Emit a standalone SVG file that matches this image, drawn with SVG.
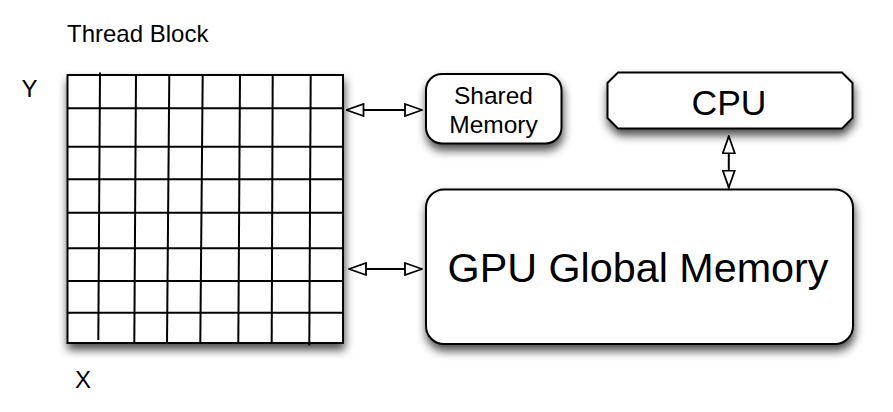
<svg xmlns="http://www.w3.org/2000/svg" width="893" height="412" viewBox="0 0 893 412">
  <style>
    .lbl { font-family: "Liberation Sans", Arial, Helvetica, sans-serif; fill: #000; }
    .box { fill: #fff; stroke: #000; stroke-width: 2; }
    .grid line { stroke: #000; stroke-width: 2; }
    .conn { stroke: #000; stroke-width: 2; fill: none; }
  </style>
  <defs>
    <filter id="sh" x="-10%" y="-10%" width="125%" height="140%">
      <feDropShadow dx="1" dy="6" stdDeviation="5" flood-color="#000" flood-opacity="0.7"/>
    </filter>
    <marker id="ah" viewBox="0 0 19 14" refX="18" refY="7" markerWidth="19" markerHeight="14" markerUnits="userSpaceOnUse" orient="auto-start-reverse">
      <path d="M1,1 L18,7 L1,13 Z" fill="#fff" stroke="#000" stroke-width="1.8" stroke-linejoin="miter"/>
    </marker>
  </defs>

  <text class="lbl" x="67" y="42" font-size="24">Thread Block</text>
  <text class="lbl" x="21.5" y="97" font-size="24">Y</text>
  <text class="lbl" x="75" y="387.5" font-size="24">X</text>

  <g id="thread-block">
    <rect class="box" x="67.5" y="75" width="275.5" height="268" filter="url(#sh)"/>
    <g class="grid">
      <line x1="100" y1="72.5" x2="98.3" y2="340"/>
      <line x1="136" y1="75" x2="134.3" y2="343"/>
      <line x1="169.3" y1="75" x2="167" y2="343"/>
      <line x1="202.7" y1="75" x2="200.3" y2="343"/>
      <line x1="240" y1="75" x2="238.3" y2="343"/>
      <line x1="272.7" y1="75" x2="271.7" y2="343"/>
      <line x1="310.7" y1="75" x2="309.3" y2="345.5"/>
      <line x1="67.5" y1="108.3" x2="343" y2="108.3"/>
      <line x1="67.5" y1="146.7" x2="343" y2="146.7"/>
      <line x1="67.5" y1="179.3" x2="343" y2="179.3"/>
      <line x1="67.5" y1="212.7" x2="343" y2="212.7"/>
      <line x1="67.5" y1="248.3" x2="343" y2="248.3"/>
      <line x1="67.5" y1="281" x2="343" y2="281"/>
      <line x1="67.5" y1="312.7" x2="343" y2="312.7"/>
    </g>
  </g>

  <g id="shared-memory">
    <rect class="box" x="426" y="74" width="135.5" height="69.5" rx="16" ry="16" filter="url(#sh)"/>
    <text class="lbl" x="493.5" y="103.5" font-size="24.5" text-anchor="middle">Shared</text>
    <text class="lbl" x="493.5" y="133" font-size="24.5" text-anchor="middle">Memory</text>
  </g>

  <g id="cpu">
    <polygon class="box" points="618,72.5 842,72.5 852.5,83 852.5,118 842,128.5 618,128.5 607.5,118 607.5,83" filter="url(#sh)"/>
    <text class="lbl" x="729" y="115" font-size="35.5" text-anchor="middle">CPU</text>
  </g>

  <g id="gpu-global-memory">
    <rect class="box" x="426" y="189.5" width="427" height="154.5" rx="18" ry="18" filter="url(#sh)"/>
    <text class="lbl" x="638" y="282" font-size="41.3" text-anchor="middle">GPU Global Memory</text>
  </g>

  <g id="connectors">
    <line class="conn" x1="346.5" y1="110" x2="422" y2="110" marker-start="url(#ah)" marker-end="url(#ah)"/>
    <line class="conn" x1="349" y1="269" x2="422" y2="269" marker-start="url(#ah)" marker-end="url(#ah)"/>
    <line class="conn" x1="728.8" y1="136.3" x2="728.8" y2="187.5" marker-start="url(#ah)" marker-end="url(#ah)"/>
  </g>
</svg>
